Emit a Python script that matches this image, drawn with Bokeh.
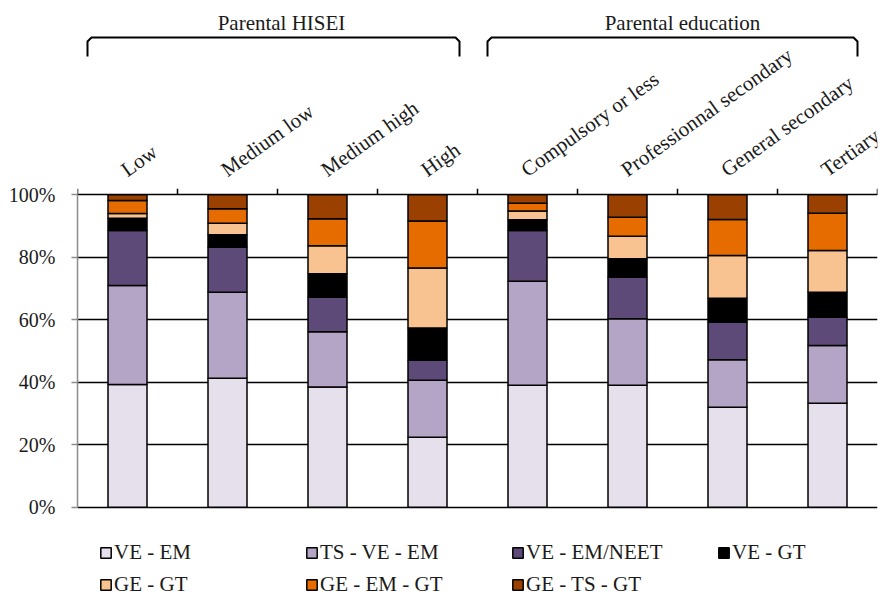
from bokeh.plotting import figure
from bokeh.models import (FactorRange, Range1d, FixedTicker, Legend, LegendItem,
                          ColumnDataSource, PrintfTickFormatter, LabelSet)
from bokeh.core.properties import value
from bokeh.embed import file_html
from bokeh.resources import INLINE

# ---------------- data ----------------
categories = ["Low", "Medium low", "Medium high", "High",
              "Compulsory or less", "Professionnal secondary",
              "General secondary", "Tertiary"]
group_names = ["Parental HISEI", "Parental education"]
group_first = ["Low", "Compulsory or less"]
group_last = ["High", "Tertiary"]
series = ["VE - EM", "TS - VE - EM", "VE - EM/NEET", "VE - GT",
          "GE - GT", "GE - EM - GT", "GE - TS - GT"]
ve_em = [39.3, 41.3, 38.5, 22.4, 39.0, 39.0, 32.0, 33.3]
ts_ve_em = [31.7, 27.5, 17.7, 18.2, 33.3, 21.3, 15.2, 18.5]
ve_em_neet = [17.6, 14.4, 11.0, 6.4, 16.3, 13.3, 12.0, 9.0]
ve_gt = [3.9, 4.0, 7.5, 10.4, 3.4, 5.9, 7.7, 8.0]
ge_gt = [1.5, 3.7, 9.0, 19.2, 2.8, 7.2, 13.7, 13.4]
ge_em_gt = [4.2, 4.6, 8.6, 15.0, 2.5, 6.1, 11.5, 11.9]
ge_ts_gt = [1.8, 4.5, 7.7, 8.4, 2.7, 7.2, 7.9, 5.9]
y_ticks = [0, 20, 40, 60, 80, 100]

colors = ["#E6DFEC", "#B4A5C7", "#5E4A78", "#000000",
          "#F8C391", "#E66C00", "#9A4000"]
FONT = "Liberation Serif"
TXT = "#1a1a1a"

# ---------------- geometry (figure pixels) ----------------
W, H = 887, 598
y100_px, y0_px = 194.3, 506.7
ppu = (y0_px - y100_px) / 100.0


def yd(py):
    return 100 + (y100_px - py) / ppu


p = figure(width=W, height=H, output_backend="svg", toolbar_location=None,
           x_range=FactorRange(factors=categories, range_padding=0),
           y_range=Range1d(yd(H), yd(0)),
           x_axis_location=None, min_border_left=77, min_border_right=10,
           min_border_top=0, min_border_bottom=0)
p.outline_line_color = None
p.background_fill_color = "white"

# axes / grid
ya = p.yaxis[0]
ya.ticker = FixedTicker(ticks=y_ticks)
ya.formatter = PrintfTickFormatter(format="%d%%")
ya.bounds = (0, 100)
ya.axis_line_color = "#8c8c8c"
ya.axis_line_width = 1.5
ya.major_tick_line_color = "#8c8c8c"
ya.major_tick_line_width = 1.5
ya.major_tick_out = 6
ya.major_tick_in = 0
ya.minor_tick_line_color = None
ya.major_label_standoff = 16
ya.major_label_text_font = FONT
ya.major_label_text_font_size = "20px"
ya.major_label_text_color = TXT

p.xgrid.visible = False
p.ygrid.ticker = FixedTicker(ticks=y_ticks)
p.ygrid.grid_line_color = "black"
p.ygrid.grid_line_width = 1.6

# bars
keys = ["ve_em", "ts_ve_em", "ve_em_neet", "ve_gt", "ge_gt", "ge_em_gt", "ge_ts_gt"]
src = ColumnDataSource(dict(categories=categories, ve_em=ve_em, ts_ve_em=ts_ve_em,
                            ve_em_neet=ve_em_neet, ve_gt=ve_gt, ge_gt=ge_gt,
                            ge_em_gt=ge_em_gt, ge_ts_gt=ge_ts_gt))
rends = p.vbar_stack(keys, x="categories", width=0.39, source=src,
                     fill_color=colors, line_color="black", line_width=1.5)

# top tick marks at category boundaries
bx = [(c, -0.5) for c in categories] + [(categories[-1], 0.5)]
p.segment(x0=bx, x1=bx, y0=[100] * len(bx), y1=[yd(y100_px - 6)] * len(bx),
          line_color="black", line_width=1.5)

# rotated category labels (annotation, so it may reach past the frame edge)
lab_src = ColumnDataSource(dict(categories=categories,
                                ly=[yd(177)] * len(categories)))
p.add_layout(LabelSet(x="categories", y="ly", text="categories", source=lab_src,
                      angle=0.62, text_align="left", text_baseline="alphabetic",
                      text_font=value(FONT), text_font_size=value("21px"),
                      text_color=value(TXT)))

# group brackets and titles
yt, yb = yd(37), yd(56)
ch = 4 / ppu
for name, first, last, lo, ro, to in zip(group_names, group_first, group_last,
                                          [-0.40, -0.40], [0.32, 0.30], [-0.46, -0.45]):
    xs = [(first, lo), (first, lo), (first, lo + 0.04), (last, ro - 0.04), (last, ro), (last, ro)]
    ys = [yb, yt - ch, yt, yt, yt - ch, yb]
    p.line(x=xs, y=ys, line_color="black", line_width=2, line_join="round")
    mid_cat = categories[categories.index(first) + 2]
    p.text(x=[(mid_cat, to)], y=[yd(22)], text=[name], text_align="center",
           text_baseline="middle", text_font=value(FONT), text_font_size="21px",
           text_color=TXT)

# legend
items = [LegendItem(label=s, renderers=[r]) for s, r in zip(series, rends)]
legend = Legend(items=items, orientation="horizontal", ncols=4,
                location=(22, 1), glyph_width=13, glyph_height=13,
                label_standoff=2, label_width=184, spacing=7,
                padding=0, margin=0, border_line_color=None,
                background_fill_alpha=0,
                label_text_font=FONT, label_text_font_size="21px",
                label_text_color=TXT)
p.add_layout(legend)

open("out.html", "w").write(file_html(p, INLINE))
